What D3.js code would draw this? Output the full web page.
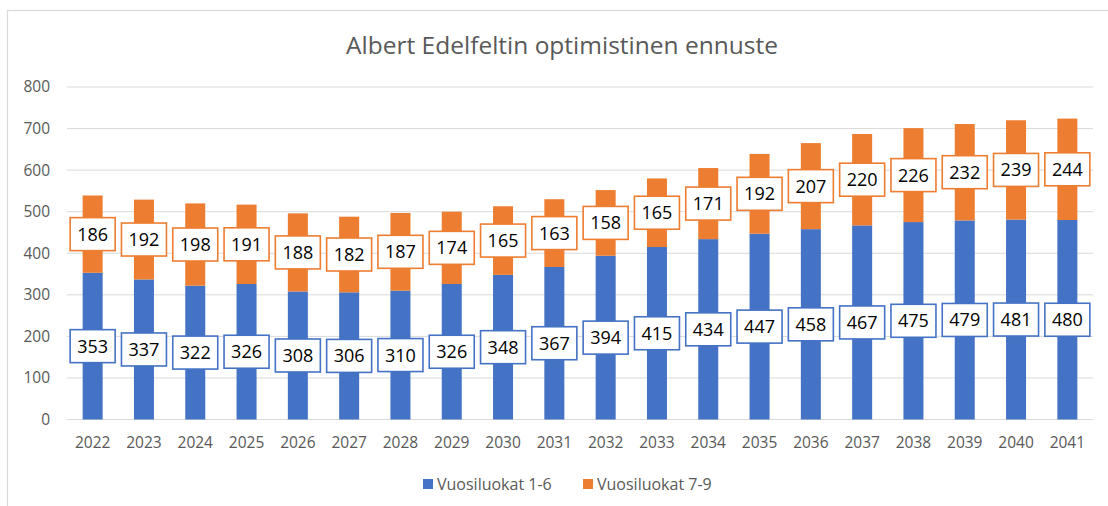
<!DOCTYPE html>
<html>
<head>
<meta charset="utf-8">
<script src="https://cdn.jsdelivr.net/npm/d3@7"></script>
<style>
  html, body { margin: 0; padding: 0; background: #fff; }
  svg { display: block; }
  text { font-family: "Open Sans", "Noto Sans", sans-serif; }
</style>
</head>
<body>
<svg id="chart" width="1108" height="506"></svg>
<script>
const title = "Albert Edelfeltin optimistinen ennuste";
const years = ["2022","2023","2024","2025","2026","2027","2028","2029","2030","2031","2032","2033","2034","2035","2036","2037","2038","2039","2040","2041"];
const seriesNames = ["Vuosiluokat 1-6", "Vuosiluokat 7-9"];
const grades1to6 = [353,337,322,326,308,306,310,326,348,367,394,415,434,447,458,467,475,479,481,480];
const grades7to9 = [186,192,198,191,188,182,187,174,165,163,158,165,171,192,207,220,226,232,239,244];
const yTicks = [0,100,200,300,400,500,600,700,800];
const colors = ["#4472C4", "#ED7D31"];

const svg = d3.select("#chart");
const textGray = "#595959";

// outer chart border
svg.append("rect").attr("x", 7.5).attr("y", 10.5).attr("width", 1200).attr("height", 600)
  .attr("fill", "none").attr("stroke", "#d9d9d9").attr("stroke-width", 1.2);

const x = d3.scaleBand().domain(years).range([67, 1093]).paddingInner(0.61).paddingOuter(0.305);
const y = d3.scaleLinear().domain([0, 800]).range([419.5, 87]);

// gridlines
svg.append("g").selectAll("line").data(yTicks).join("line")
  .attr("x1", 67).attr("x2", 1093)
  .attr("y1", d => y(d)).attr("y2", d => y(d))
  .attr("stroke", "#d9d9d9").attr("stroke-width", 1);

// y axis labels
const yAxis = svg.append("g").attr("transform", "translate(50,0)")
  .call(d3.axisLeft(y).tickValues(yTicks).tickSize(0).tickPadding(0));
yAxis.select(".domain").remove();
yAxis.selectAll("text").attr("font-size", 15.5).attr("fill", textGray)
  .attr("font-family", "'Open Sans', sans-serif");

// x axis labels
const xAxis = svg.append("g").attr("transform", "translate(0,437)")
  .call(d3.axisBottom(x).tickSize(0).tickPadding(0));
xAxis.select(".domain").remove();
xAxis.selectAll("text").attr("font-size", 15.5).attr("fill", textGray)
  .attr("font-family", "'Open Sans', sans-serif");

// stacked data
const rows = years.map((yr, i) => ({ year: yr, a: grades1to6[i], b: grades7to9[i] }));
const stack = d3.stack().keys(["a", "b"])(rows);

const layers = svg.append("g").selectAll("g").data(stack).join("g")
  .attr("fill", (d, i) => colors[i]);
layers.selectAll("rect").data(d => d).join("rect")
  .attr("x", d => x(d.data.year))
  .attr("width", x.bandwidth())
  .attr("y", d => y(d[1]))
  .attr("height", d => y(d[0]) - y(d[1]));

// data labels
const boxW = 45, boxH = 33;
stack.forEach((layer, li) => {
  const g = svg.append("g");
  const lg = g.selectAll("g").data(layer).join("g")
    .attr("transform", d => `translate(${x(d.data.year) + x.bandwidth() / 2},${y((d[0] + d[1]) / 2)})`);
  lg.append("rect")
    .attr("x", -boxW / 2).attr("y", -boxH / 2)
    .attr("width", boxW).attr("height", boxH)
    .attr("fill", "#fff").attr("stroke", colors[li]).attr("stroke-width", 1.6);
  lg.append("text")
    .attr("text-anchor", "middle").attr("dy", "0.36em")
    .attr("font-size", 18).attr("fill", "#000")
    .text(d => d[1] - d[0]);
});

// title
svg.append("text").attr("x", 562).attr("y", 54).attr("text-anchor", "middle")
  .attr("font-size", 24.5).attr("fill", textGray).text(title);

// legend
const legendX = [423, 583];
const legend = svg.append("g").selectAll("g").data(seriesNames).join("g")
  .attr("transform", (d, i) => `translate(${legendX[i]},479)`);
legend.append("rect").attr("width", 10).attr("height", 10).attr("fill", (d, i) => colors[i]);
legend.append("text").attr("x", 14).attr("y", 5).attr("dy", "0.35em")
  .attr("font-size", 16).attr("fill", textGray).text(d => d);
</script>
</body>
</html>
